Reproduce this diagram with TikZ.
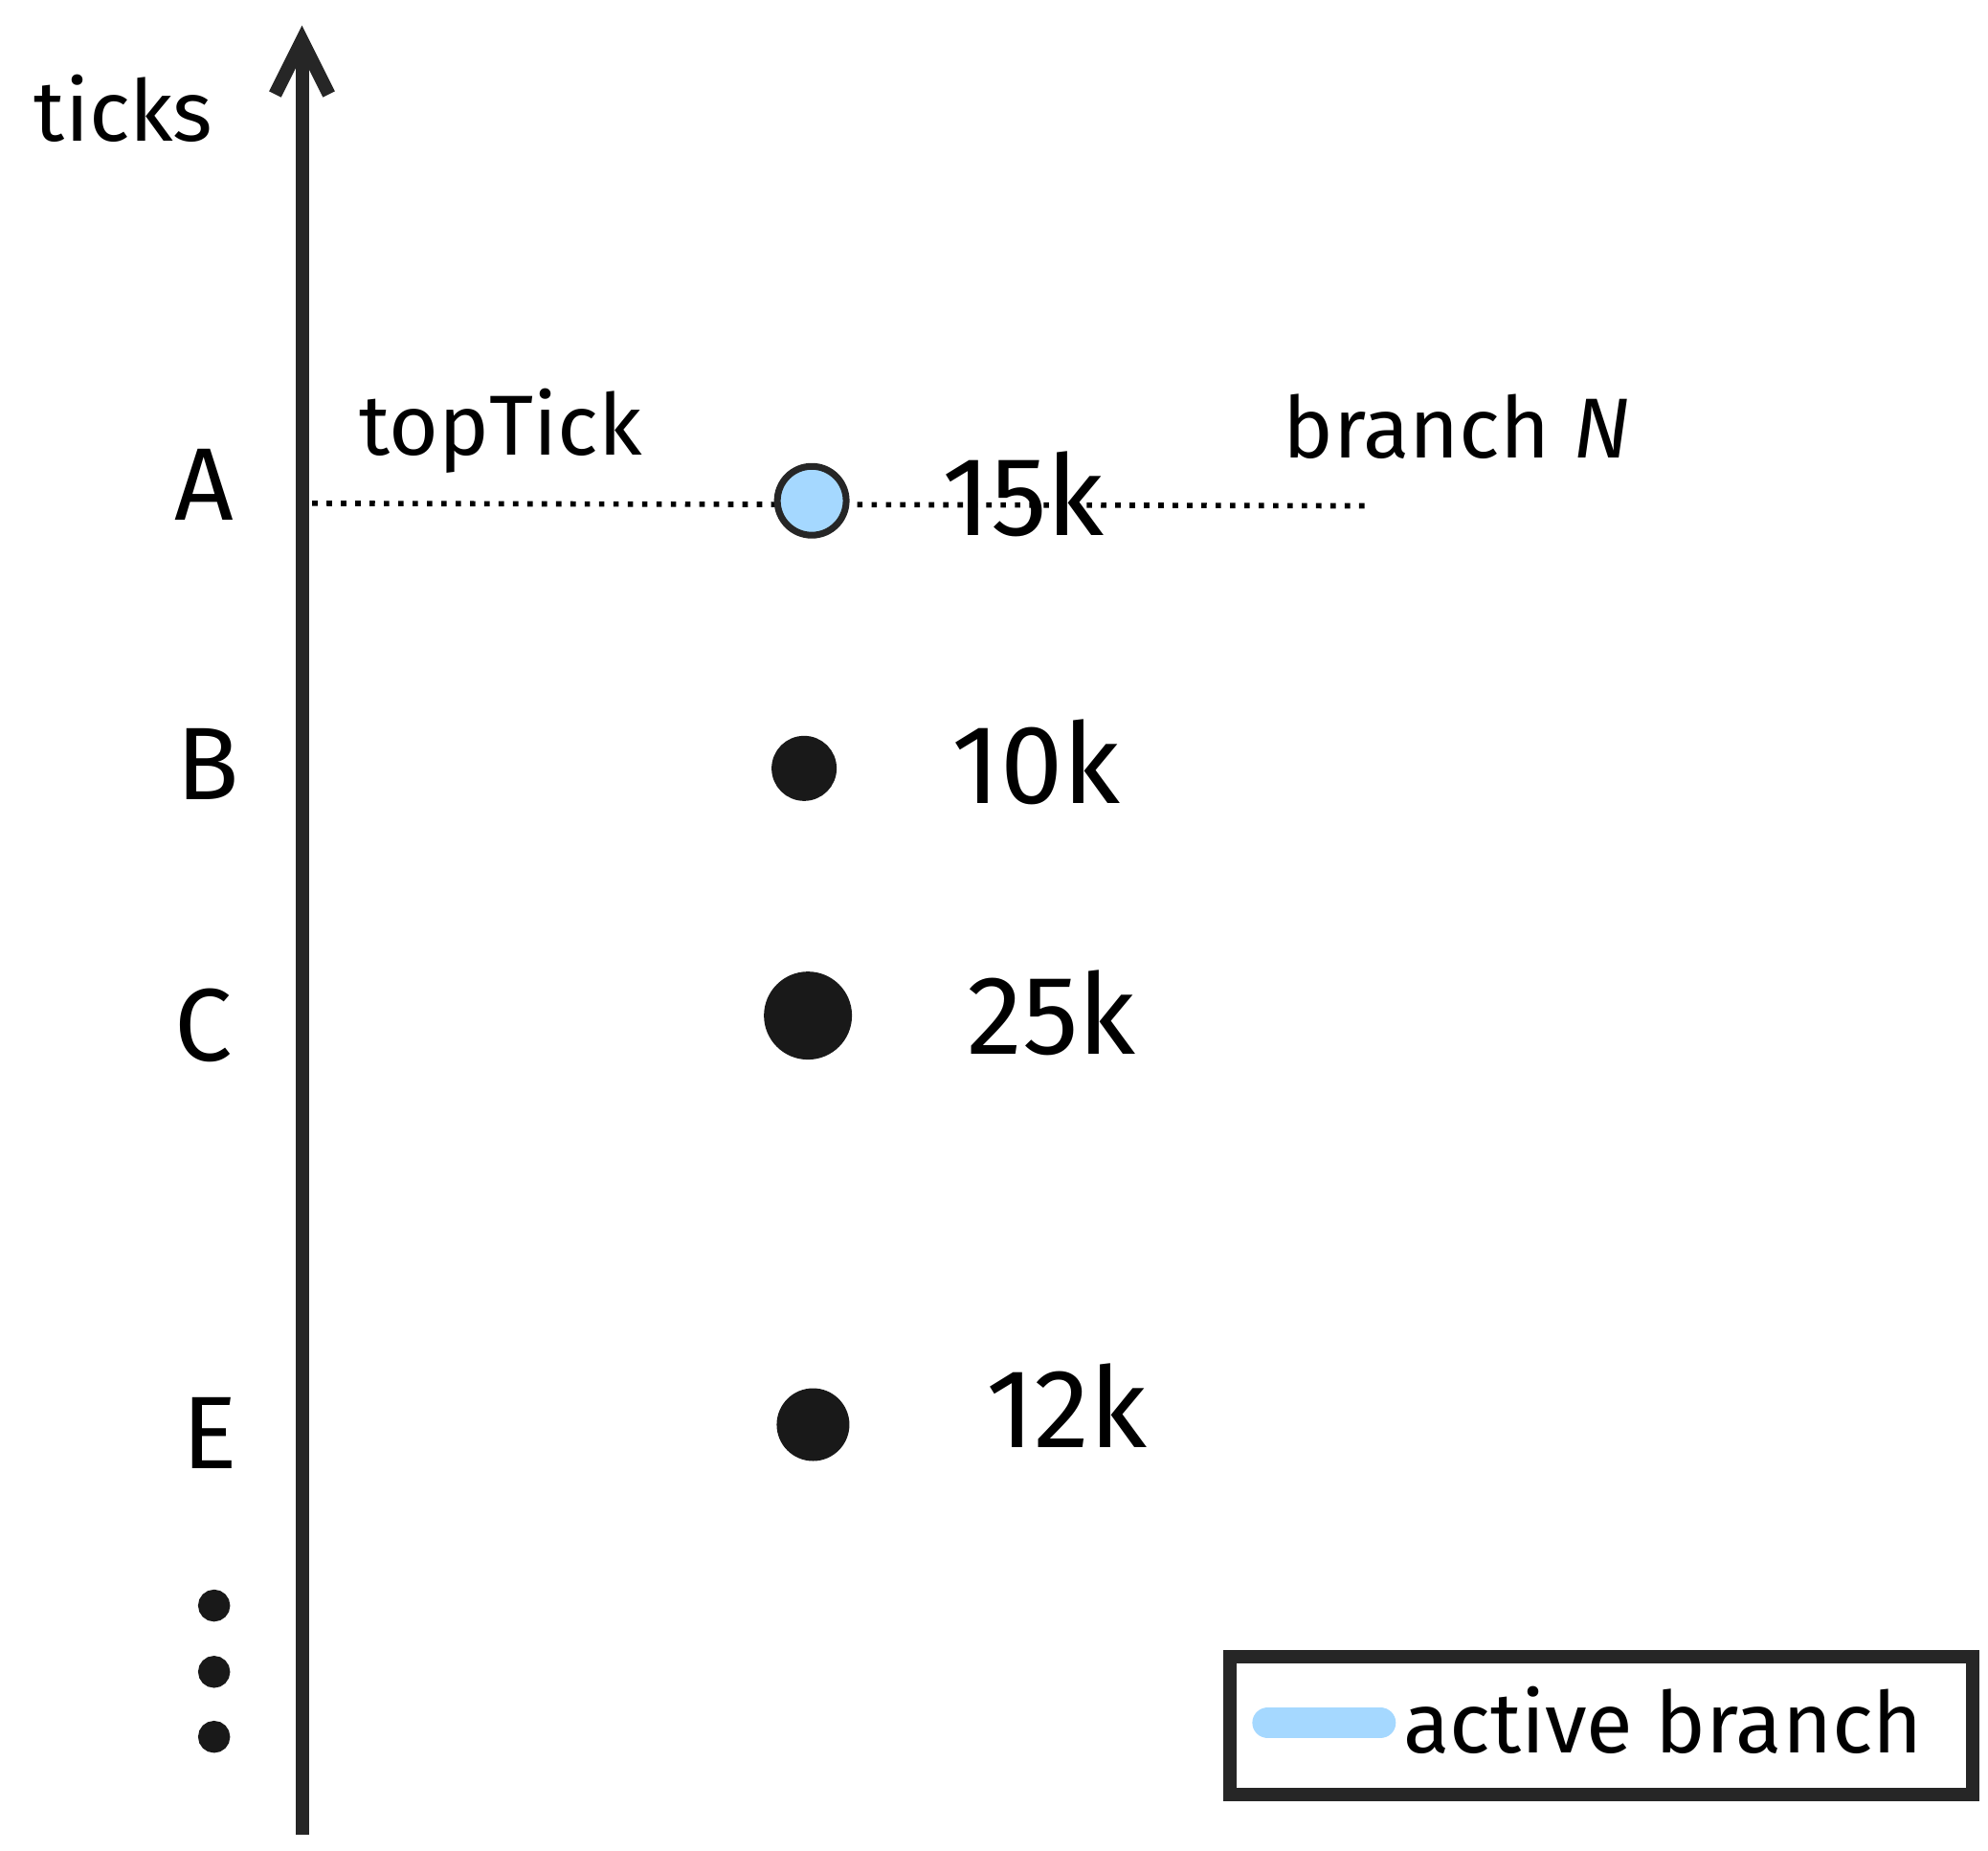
\documentclass[tikz,border=0pt]{standalone}
\usepackage{fontspec}
\setmainfont{Fira Sans}
\usetikzlibrary{arrows.meta}
\begin{document}
\begin{tikzpicture}[x=0.01cm,y=-0.01cm,line width=2pt]
	\tikzstyle{row-label}=[font=\fontsize{23}{25}\selectfont]
	\tikzstyle{val-label}=[font=\fontsize{25}{27}\selectfont]
	\tikzstyle{note}=[font=\fontsize{19}{21}\selectfont]
	\tikzstyle{b-dot}=[circle,fill=black!90,draw=black!90,inner sep=0pt]
	\definecolor{activeblue}{HTML}{A5D8FF}
	\useasboundingbox (0,0) rectangle (1560,1452);

	% axis
	\coordinate (base) at (237,1440);
	\coordinate (top) at (237,20);
	\draw[-{Straight Barb[length=12pt,width=12pt]},line width=3pt,black!85] (base) -- (top);
	\node[note] (ticks) at (97,85) {ticks};

	% rows
	\node[row-label] (A) at (160,380) {A};
	\node[row-label] (B) at (163,600) {B};
	\node[row-label] (C) at (160,805) {C};
	\node[row-label] (E) at (165,1125) {E};
	\foreach \y in {1260,1312,1363}
		\node[b-dot,minimum size=0.18cm] at (168,\y) {};

	% top tick line
	\node[note] (toptick) at (393,338) {topTick};
	\node[note] (branch) at (1143,335) {branch \textit{N}};
	\coordinate (line-start) at (245,395);
	\coordinate (line-end) at (1075,397);
	\draw[dotted,line width=1.2pt] (line-start) -- (line-end);

	% branch points
	\node[circle,fill=activeblue,draw=black!85,line width=1.5pt,inner sep=0pt,minimum size=0.54cm] (pA) at (637,393) {};
	\node[b-dot,minimum size=0.44cm] (pB) at (631,603) {};
	\node[b-dot,minimum size=0.62cm] (pC) at (634,797) {};
	\node[b-dot,minimum size=0.5cm] (pE) at (638,1118) {};

	\node[val-label] (vA) at (803,388) {15k};
	\node[val-label] (vB) at (813,598) {10k};
	\node[val-label] (vC) at (825,795) {25k};
	\node[val-label] (vE) at (837,1103) {12k};

	% legend
	\draw[line width=3pt,black!85] (965,1300) rectangle (1548,1408);
	\coordinate (key-start) at (995,1352);
	\coordinate (key-end) at (1083,1352);
	\draw[activeblue,line width=7pt,line cap=round] (key-start) -- (key-end);
	\node[note] (legend) at (1305,1350) {active branch};
\end{tikzpicture}
\end{document}
